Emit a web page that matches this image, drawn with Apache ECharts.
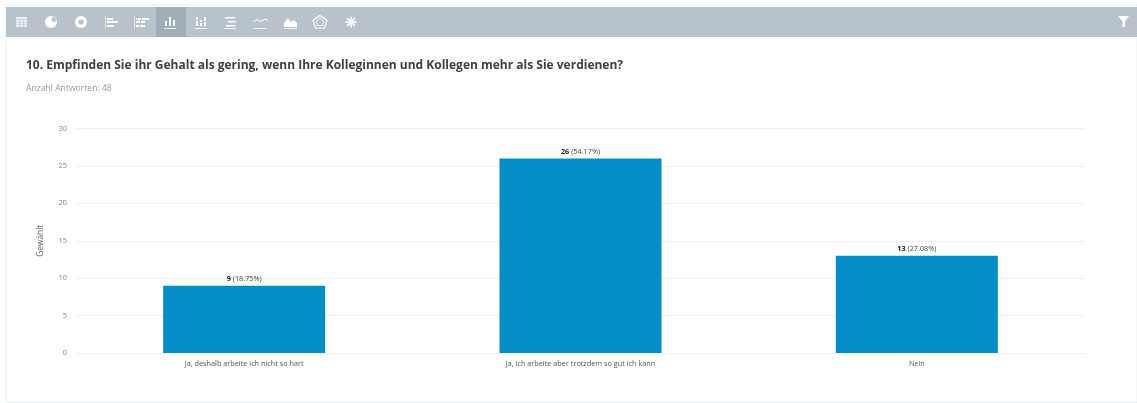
<!DOCTYPE html>
<html>
<head>
<meta charset="utf-8">
<style>html,body{margin:0;padding:0;background:#fff}#c{width:1137px;height:403px}</style>
<script src="https://cdn.jsdelivr.net/npm/echarts@6/dist/echarts.min.js"></script>
</head>
<body>
<div id="c"></div>
<script>
const categories = ['Ja, deshalb arbeite ich nicht so hart', 'Ja, ich arbeite aber trotzdem so gut ich kann', 'Nein'];
const counts = [9, 26, 13];
const shares = ['18.75', '54.17', '27.08'];
const heading = '10. Empfinden Sie ihr Gehalt als gering, wenn Ihre Kolleginnen und Kollegen mehr als Sie verdienen?';
const answered = 'Anzahl Antworten: 48';
const yName = 'Gewählt';
const FONT = '"Open Sans", sans-serif';
const STRIP = '#b8c2ca';

const bar = (x, y, w, h, opacity) => ({ type: 'rect', shape: { x, y, width: w, height: h }, style: { fill: '#fff', opacity: opacity === undefined ? 1 : opacity }, silent: true });
const stroke = (points) => ({ type: 'polyline', shape: { points }, style: { stroke: '#fff', lineWidth: 1, fill: null }, silent: true });
const dot = (cx, cy, r, fill) => ({ type: 'circle', shape: { cx, cy, r }, style: { fill: fill || '#fff' }, silent: true });

// Toolbar glyphs, one small group per chart type
const toolbarIcons = [
  // table
  bar(16, 17, 11, 10, 0.75), ...[19.5, 23].map(x => ({ type: 'rect', shape: { x, y: 19, width: 0.6, height: 8 }, style: { fill: STRIP }, silent: true })),
  ...[19, 22, 24.5].map(y => ({ type: 'rect', shape: { x: 16, y, width: 11, height: 0.6 }, style: { fill: STRIP }, silent: true })),
  // pie
  dot(51, 22, 6), { type: 'sector', shape: { cx: 51.6, cy: 21.4, r0: 0, r: 4.5, startAngle: -Math.PI / 2, endAngle: 0 }, style: { fill: STRIP }, silent: true },
  // donut
  dot(81, 22, 6), dot(81, 22, 2.6, STRIP),
  // horizontal bars
  bar(105, 16.5, 1, 12, 0.6), bar(107, 18, 6, 2), bar(107, 21, 11, 2), bar(107, 25, 7, 2),
  // stacked horizontal bars
  bar(134, 16.5, 1, 12, 0.6), bar(136, 18, 5, 2), bar(142, 18, 7, 2), bar(136, 21, 4, 2), bar(141, 21, 4, 2), bar(136, 25, 3, 2), bar(140, 25, 5, 2),
  // vertical bars (active)
  bar(165, 21, 2, 5), bar(169, 17, 2, 9), bar(173, 20, 2, 6), bar(164, 28, 12, 1, 0.8),
  // stacked vertical bars
  bar(196, 17, 2, 3), bar(196, 21, 2, 5), bar(200, 20, 2, 2), bar(200, 23, 2, 3), bar(204, 17, 2, 4), bar(204, 22, 2, 4), bar(195, 28, 12, 1, 0.8),
  // centred bars
  bar(225, 17, 10, 1.5), bar(228, 21, 8, 1.5), bar(226, 25, 9, 1.5), bar(224, 28, 12, 1, 0.8),
  // line
  stroke([[253, 22], [257, 19.5], [261, 21.5], [265, 19], [268, 20.5]]), bar(254, 28, 12, 1, 0.8),
  // area
  { type: 'polygon', shape: { points: [[284, 27], [284, 23], [288, 18], [291, 22], [294, 20], [297, 23], [297, 27]] }, style: { fill: '#fff' }, silent: true }, bar(284, 28, 13, 1, 0.8),
  // radar
  { type: 'polygon', shape: { points: [[320, 15.5], [327, 20], [324.5, 28], [315.5, 28], [313, 20]] }, style: { fill: null, stroke: '#fff', lineWidth: 1.2 }, silent: true },
  { type: 'polygon', shape: { points: [[320, 18.5], [323.8, 21], [322.5, 25.5], [317.5, 25.5], [316.2, 21]] }, style: { fill: null, stroke: '#fff', lineWidth: 1, opacity: 0.8 }, silent: true },
  // polar burst
  ...[0, 45, 90, 135].map(a => {
    const r = a * Math.PI / 180, dx = Math.cos(r) * 5.5, dy = Math.sin(r) * 5.5;
    return { type: 'line', shape: { x1: 351 - dx, y1: 22 - dy, x2: 351 + dx, y2: 22 + dy }, style: { stroke: '#fff', lineWidth: 1.6 }, silent: true };
  }),
  // filter funnel
  { type: 'polygon', shape: { points: [[1118, 16], [1129, 16], [1125, 21.5], [1125, 27], [1122.5, 27], [1122.5, 21.5]] }, style: { fill: '#fff' }, silent: true }
];

const chart = echarts.init(document.getElementById('c'), null, { renderer: 'canvas' });
chart.setOption({
  animation: false,
  backgroundColor: '#ffffff',
  textStyle: { fontFamily: FONT },
  title: [
    { text: heading, left: 26, top: 60, padding: 0, textStyle: { fontFamily: FONT, fontSize: 12, fontWeight: 'bold', color: '#3c4146' } },
    { text: answered, left: 26, top: 84, padding: 0, textStyle: { fontFamily: FONT, fontSize: 8.6, fontWeight: 'normal', color: '#9a9a9a' } }
  ],
  grid: { left: 76, right: 52, top: 128.5, height: 224.5, containLabel: false },
  xAxis: {
    type: 'category',
    data: categories,
    axisLine: { show: true, lineStyle: { color: '#eef0f1', width: 1 } },
    axisTick: { show: false },
    axisLabel: { fontFamily: FONT, fontSize: 7.3, color: '#555', margin: 7 }
  },
  yAxis: {
    type: 'value',
    min: 0,
    max: 30,
    interval: 5,
    name: yName,
    nameLocation: 'middle',
    nameGap: 31,
    nameTextStyle: { fontFamily: FONT, fontSize: 8.3, color: '#666' },
    axisLine: { show: false },
    axisTick: { show: false },
    axisLabel: { fontFamily: FONT, fontSize: 7.5, color: '#888', margin: 9 },
    splitLine: { lineStyle: { color: '#eef0f1', width: 1 } }
  },
  series: [{
    type: 'bar',
    data: counts,
    barWidth: 162,
    itemStyle: { color: '#058dc7' },
    label: {
      show: true,
      position: 'top',
      distance: 3,
      formatter: p => `{b|${p.value} }{n|(${shares[p.dataIndex]}%)}`,
      rich: {
        b: { fontFamily: FONT, fontSize: 7.3, fontWeight: 'bold', color: '#222' },
        n: { fontFamily: FONT, fontSize: 7.3, color: '#444' }
      }
    }
  }],
  graphic: [
    // card edges and toolbar strip
    { type: 'rect', z: -1, shape: { x: 6, y: 5, width: 1131, height: 397.5 }, style: { fill: '#fff', stroke: '#e9ecee', lineWidth: 1 }, silent: true },
    { type: 'rect', shape: { x: 6, y: 7, width: 1131, height: 30 }, style: { fill: STRIP }, silent: true },
    { type: 'rect', shape: { x: 156, y: 7, width: 30, height: 30 }, style: { fill: '#9fadb6' }, silent: true },
    ...toolbarIcons
  ]
});
</script>
</body>
</html>
